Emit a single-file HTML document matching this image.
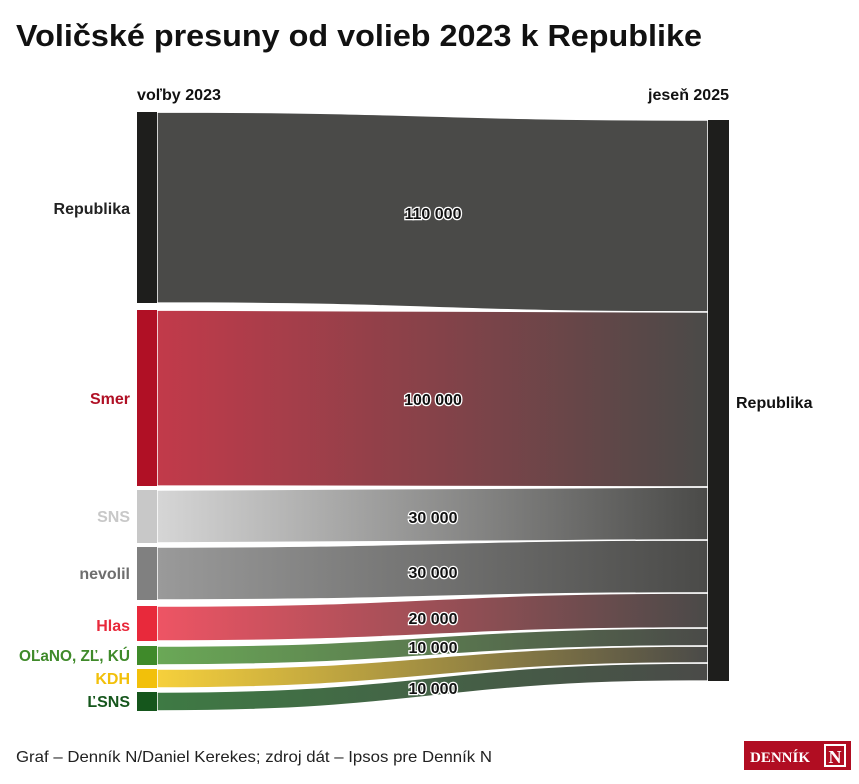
<!DOCTYPE html>
<html><head><meta charset="utf-8"><style>
body{margin:0;background:#fff;width:859px;height:779px;overflow:hidden;font-family:"Liberation Sans",sans-serif}
</style></head><body>
<svg width="859" height="779" xmlns="http://www.w3.org/2000/svg" font-family="Liberation Sans, sans-serif">
<defs>
<linearGradient id="g1" x1="157" x2="708" gradientUnits="userSpaceOnUse"><stop offset="0" stop-color="#c23a4a"/><stop offset="1" stop-color="#4a4a48"/></linearGradient>
<linearGradient id="g2" x1="157" x2="708" gradientUnits="userSpaceOnUse"><stop offset="0" stop-color="#d6d6d6"/><stop offset="1" stop-color="#4a4a48"/></linearGradient>
<linearGradient id="g3" x1="157" x2="708" gradientUnits="userSpaceOnUse"><stop offset="0" stop-color="#9a9a9a"/><stop offset="1" stop-color="#4a4a48"/></linearGradient>
<linearGradient id="g4" x1="157" x2="708" gradientUnits="userSpaceOnUse"><stop offset="0" stop-color="#ee5464"/><stop offset="1" stop-color="#4a4a48"/></linearGradient>
<linearGradient id="g5" x1="157" x2="708" gradientUnits="userSpaceOnUse"><stop offset="0" stop-color="#6aa856"/><stop offset="1" stop-color="#4a4a48"/></linearGradient>
<linearGradient id="g6" x1="157" x2="708" gradientUnits="userSpaceOnUse"><stop offset="0" stop-color="#f6d03c"/><stop offset="1" stop-color="#4a4a48"/></linearGradient>
<linearGradient id="g7" x1="157" x2="708" gradientUnits="userSpaceOnUse"><stop offset="0" stop-color="#3e7a44"/><stop offset="1" stop-color="#4a4a48"/></linearGradient>
</defs>
<text x="16" y="46" font-size="31" font-weight="bold" fill="#111" textLength="686" lengthAdjust="spacingAndGlyphs">Voličské presuny od volieb 2023 k Republike</text>
<text x="137" y="100" font-size="16" font-weight="bold" fill="#111" textLength="84" lengthAdjust="spacingAndGlyphs">voľby 2023</text>
<text x="729" y="100" font-size="16" font-weight="bold" fill="#111" text-anchor="end">jeseň 2025</text>
<g stroke="#fff" stroke-width="1.5">
<path d="M157,112 C432,112 432,120 708,120 L708,312 C432,312 432,303 157,303Z" fill="#4a4a48"/>
<path d="M157,310 C432,310 432,312 708,312 L708,487 C432,487 432,486 157,486Z" fill="url(#g1)"/>
<path d="M157,490 C432,490 432,487 708,487 L708,540 C432,540 432,543 157,543Z" fill="url(#g2)"/>
<path d="M157,547 C432,547 432,540 708,540 L708,593 C432,593 432,600 157,600Z" fill="url(#g3)"/>
<path d="M157,606 C432,606 432,593 708,593 L708,628 C432,628 432,641 157,641Z" fill="url(#g4)"/>
<path d="M157,646 C432,646 432,628 708,628 L708,646 C432,646 432,665 157,665Z" fill="url(#g5)"/>
<path d="M157,669 C432,669 432,646 708,646 L708,663 C432,663 432,688 157,688Z" fill="url(#g6)"/>
<path d="M157,692 C432,692 432,663 708,663 L708,681 C432,681 432,711 157,711Z" fill="url(#g7)"/>
</g>
<rect x="137" y="112" width="20" height="191" fill="#1e1e1c"/>
<rect x="137" y="310" width="20" height="176" fill="#b01025"/>
<rect x="137" y="490" width="20" height="53" fill="#c8c8c8"/>
<rect x="137" y="547" width="20" height="53" fill="#808080"/>
<rect x="137" y="606" width="20" height="35" fill="#e8293b"/>
<rect x="137" y="646" width="20" height="19" fill="#3f8a2a"/>
<rect x="137" y="669" width="20" height="19" fill="#f2c00a"/>
<rect x="137" y="692" width="20" height="19" fill="#15561c"/>
<rect x="708" y="120" width="21" height="561" fill="#1e1e1c"/>
<g font-size="16" font-weight="bold" text-anchor="end">
<text x="130" y="214" fill="#222">Republika</text>
<text x="130" y="404" fill="#b01025">Smer</text>
<text x="130" y="522" fill="#c8c8c8">SNS</text>
<text x="130" y="579" fill="#6e6e6e">nevolil</text>
<text x="130" y="631" fill="#e8293b">Hlas</text>
<text x="130" y="661" fill="#3f8a2a" textLength="111" lengthAdjust="spacingAndGlyphs">OĽaNO, ZĽ, KÚ</text>
<text x="130" y="684" fill="#f2c00a">KDH</text>
<text x="130" y="707" fill="#15561c">ĽSNS</text>
</g>
<text x="736" y="408" font-size="16" font-weight="bold" fill="#111">Republika</text>
<g font-size="16" font-weight="bold" text-anchor="middle" fill="#111" stroke="#fff" stroke-width="2.5" paint-order="stroke">
<text x="433" y="219">110 000</text>
<text x="433" y="405">100 000</text>
<text x="433" y="523">30 000</text>
<text x="433" y="578">30 000</text>
<text x="433" y="624">20 000</text>
<text x="433" y="653">10 000</text>
<text x="433" y="694">10 000</text>
</g>
<text x="16" y="762" font-size="16" fill="#222" textLength="476" lengthAdjust="spacingAndGlyphs">Graf – Denník N/Daniel Kerekes; zdroj dát – Ipsos pre Denník N</text>
<rect x="744" y="741" width="107" height="29" fill="#b10d22"/>
<text x="750" y="762" font-size="15" font-family="Liberation Serif, serif" font-weight="bold" fill="#fff">DENNÍK</text>
<rect x="825" y="745" width="20" height="21" fill="none" stroke="#fff" stroke-width="2"/>
<text x="835" y="763" font-size="18" font-family="Liberation Serif, serif" font-weight="bold" fill="#fff" text-anchor="middle">N</text>
</svg>
</body></html>
